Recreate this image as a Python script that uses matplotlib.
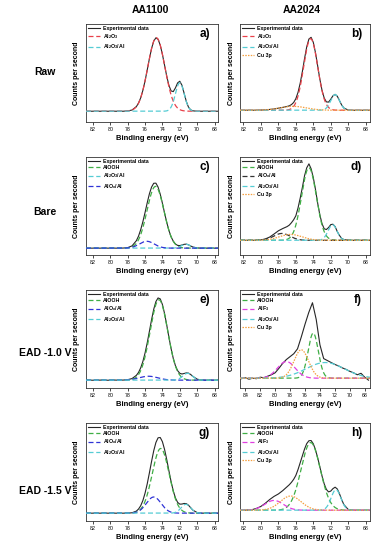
import numpy as np
import matplotlib.pyplot as plt

plt.rcParams['font.family'] = ['Liberation Sans', 'DejaVu Sans']
plt.rcParams['mathtext.fontset'] = 'custom'
plt.rcParams['mathtext.rm'] = 'Liberation Sans:bold'
plt.rcParams['mathtext.it'] = 'Liberation Sans:bold'
plt.rcParams['mathtext.bf'] = 'Liberation Sans:bold'

# measured binding energies (eV), finer step across the Al 2p peaks
energy = [83.0, 82.5, 82.0, 81.5, 81.0, 80.5, 80.0, 79.5, 79.0, 78.5, 78.0, 77.5, 77.0,
          76.75, 76.5, 76.25, 76.0, 75.75, 75.5, 75.25, 75.0, 74.75, 74.5, 74.25, 74.0,
          73.75, 73.5, 73.25, 73.0, 72.75, 72.5, 72.25, 72.0, 71.75, 71.5, 71.25, 71.0, 70.75,
          70.5, 70.0, 69.5, 69.0, 68.5, 68.0, 67.5]
energy_f = [85.0, 84.5, 84.0, 83.5, 83.0, 82.5, 82.0, 81.5, 81.0, 80.5, 80.0, 79.5,
            79.0, 78.5, 78.0, 77.5, 77.0, 76.5, 76.0, 75.5, 75.0, 74.5, 74.0, 73.5,
            73.0, 72.5, 72.0, 71.5, 71.0, 70.5, 70.0, 69.5, 69.0, 68.5, 68.0, 67.5]
ticks = [82, 80, 78, 76, 74, 72, 70, 68]
ticks_f = [84, 82, 80, 78, 76, 74, 72, 70, 68]

# a) AA1100 raw
a_exp = [0.11, 0.11, 0.11, 0.11, 0.11, 0.11, 0.11, 0.11, 0.11, 0.110, 0.113, 0.122, 0.157,
         0.193, 0.247, 0.323, 0.419, 0.531, 0.646, 0.750, 0.826, 0.859, 0.844, 0.784, 0.690,
         0.578, 0.466, 0.373, 0.317, 0.310, 0.348, 0.399, 0.416, 0.375, 0.293, 0.210, 0.152, 0.124,
         0.114, 0.110, 0.11, 0.11, 0.11, 0.11, 0.11]
a_base = 0.11
a_names = ['Al$_2$O$_3$', 'Al$_2$O$_3$/Al']
a_center = [74.7, 72.0]
a_height = [0.75, 0.29]
a_fwhm = [2.3, 1.2]

# b) AA2024 raw
b_exp = [0.12, 0.12, 0.12, 0.12, 0.12, 0.12, 0.122, 0.124, 0.128, 0.133, 0.141, 0.149, 0.159,
         0.165, 0.178, 0.199, 0.238, 0.302, 0.396, 0.516, 0.648, 0.768, 0.847, 0.864, 0.813,
         0.708, 0.574, 0.438, 0.324, 0.245, 0.205, 0.203, 0.232, 0.267, 0.282, 0.263, 0.219, 0.174,
         0.143, 0.122, 0.12, 0.12, 0.12, 0.12, 0.12]
b_base = 0.12
b_names = ['Al$_2$O$_3$', 'Al$_2$O$_3$/Al', 'Cu 3p']
b_center = [74.3, 71.5, 76.3]
b_height = [0.73, 0.16, 0.04]
b_fwhm = [1.9, 1.2, 3.5]

# c) AA1100 bare
c_exp = [0.07, 0.07, 0.07, 0.07, 0.07, 0.07, 0.07, 0.07, 0.07, 0.071, 0.075, 0.093, 0.146,
         0.193, 0.259, 0.340, 0.434, 0.533, 0.624, 0.693, 0.732, 0.733, 0.693, 0.620, 0.528,
         0.427, 0.332, 0.250, 0.185, 0.141, 0.112, 0.098, 0.096, 0.102, 0.109, 0.111, 0.104, 0.092,
         0.082, 0.072, 0.07, 0.07, 0.07, 0.07, 0.07]
c_base = 0.07
c_names = ['AlOOH', 'Al$_2$O$_3$/Al', 'AlO$_x$/Al']
c_center = [74.8, 71.3, 75.8]
c_height = [0.63, 0.04, 0.07]
c_fwhm = [2.3, 1.2, 2.0]

# d) AA2024 bare
d_exp = [0.15, 0.15, 0.15, 0.15, 0.150, 0.151, 0.154, 0.164, 0.183, 0.214, 0.247, 0.270, 0.290,
         0.305, 0.330, 0.360, 0.400, 0.480, 0.580, 0.690, 0.810, 0.890, 0.930, 0.880, 0.790,
         0.670, 0.530, 0.410, 0.320, 0.267, 0.260, 0.280, 0.310, 0.314, 0.290, 0.239, 0.200, 0.169,
         0.158, 0.150, 0.15, 0.15, 0.15, 0.15, 0.15]
d_base = 0.15
d_names = ['AlOOH', 'AlO$_x$/Al', 'Al$_2$O$_3$/Al', 'Cu 3p']
d_center = [74.5, 77.6, 71.8, 76.6]
d_height = [0.74, 0.07, 0.16, 0.06]
d_fwhm = [2.0, 2.2, 1.2, 3.0]

# e) AA1100 EAD -1.0 V
e_exp = [0.08, 0.082, 0.079, 0.08, 0.081, 0.079, 0.08, 0.081, 0.08, 0.081, 0.085, 0.096, 0.129,
         0.159, 0.206, 0.271, 0.357, 0.461, 0.578, 0.697, 0.804, 0.882, 0.919, 0.909, 0.852,
         0.758, 0.641, 0.517, 0.401, 0.302, 0.227, 0.177, 0.150, 0.143, 0.148, 0.154, 0.152, 0.138,
         0.119, 0.090, 0.081, 0.08, 0.08, 0.08, 0.08]
e_base = 0.08
e_names = ['AlOOH', 'AlO$_x$/Al', 'Al$_2$O$_3$/Al']
e_center = [74.4, 75.6, 71.1]
e_height = [0.82, 0.04, 0.07]
e_fwhm = [2.4, 2.5, 1.3]

# f) AA2024 EAD -1.0 V
f_exp = [0.10, 0.095, 0.105, 0.09, 0.10, 0.095, 0.11, 0.105, 0.12, 0.135, 0.155, 0.20,
         0.25, 0.29, 0.32, 0.35, 0.40, 0.52, 0.65, 0.77, 0.87, 0.70, 0.44, 0.30,
         0.28, 0.26, 0.24, 0.225, 0.205, 0.19, 0.17, 0.155, 0.135, 0.15, 0.11, 0.08]
f_base = 0.10
f_names = ['AlOOH', 'AlF$_3$', 'Al$_2$O$_3$/Al', 'Cu 3p']
f_center = [74.9, 78.5, 73.3, 76.5]
f_height = [0.46, 0.17, 0.16, 0.29]
f_fwhm = [1.6, 2.8, 6.0, 2.3]

# g) AA1100 EAD -1.5 V
g_exp = [0.08, 0.08, 0.08, 0.08, 0.08, 0.08, 0.08, 0.08, 0.08, 0.08, 0.080, 0.084, 0.101,
         0.122, 0.156, 0.209, 0.284, 0.379, 0.491, 0.608, 0.717, 0.801, 0.849, 0.852, 0.809,
         0.729, 0.626, 0.511, 0.401, 0.307, 0.235, 0.190, 0.172, 0.173, 0.179, 0.177, 0.161, 0.136,
         0.111, 0.086, 0.080, 0.08, 0.08, 0.08, 0.08]
g_base = 0.08
g_names = ['AlOOH', 'AlO$_x$/Al', 'Al$_2$O$_3$/Al']
g_center = [74.2, 75.0, 71.3]
g_height = [0.66, 0.165, 0.09]
g_fwhm = [2.3, 2.0, 1.3]

# h) AA2024 EAD -1.5 V
h_exp = [0.11, 0.11, 0.110, 0.112, 0.116, 0.129, 0.149, 0.181, 0.219, 0.251, 0.276, 0.310, 0.350,
         0.370, 0.395, 0.425, 0.465, 0.525, 0.595, 0.665, 0.735, 0.790, 0.819, 0.821, 0.788,
         0.727, 0.646, 0.553, 0.460, 0.379, 0.322, 0.297, 0.305, 0.330, 0.345, 0.327, 0.279, 0.219,
         0.168, 0.118, 0.111, 0.11, 0.11, 0.11, 0.11]
h_base = 0.11
h_names = ['AlOOH', 'AlF$_3$', 'Al$_2$O$_3$/Al', 'Cu 3p']
h_center = [74.3, 78.5, 71.4, 76.6]
h_height = [0.69, 0.10, 0.21, 0.145]
h_fwhm = [2.6, 2.5, 1.3, 2.8]

row_labels = ['Raw', 'Bare', 'EAD -1.0 V', 'EAD -1.5 V']
col_titles = ['AA1100', 'AA2024']

colours = {'Al$_2$O$_3$': '#e8414a', 'Al$_2$O$_3$/Al': '#55ccd4', 'AlOOH': '#3fae45',
           'AlO$_x$/Al': '#2f33d6', 'AlF$_3$': '#e03fe0', 'Cu 3p': '#f5a040'}

panels = [
    ('a)', energy, a_exp, a_base, a_names, a_center, a_height, a_fwhm),
    ('b)', energy, b_exp, b_base, b_names, b_center, b_height, b_fwhm),
    ('c)', energy, c_exp, c_base, c_names, c_center, c_height, c_fwhm),
    ('d)', energy, d_exp, d_base, d_names, d_center, d_height, d_fwhm),
    ('e)', energy, e_exp, e_base, e_names, e_center, e_height, e_fwhm),
    ('f)', energy_f, f_exp, f_base, f_names, f_center, f_height, f_fwhm),
    ('g)', energy, g_exp, g_base, g_names, g_center, g_height, g_fwhm),
    ('h)', energy, h_exp, h_base, h_names, h_center, h_height, h_fwhm),
]

W, H = 378, 550
fig = plt.figure(figsize=(W / 100, H / 100), dpi=100)

col_left = [86, 240]
col_width = [132, 130]
row_top = [24, 157, 290, 423]
ax_h = 98

for i, (letter, x, y, base, names, cen, hgt, fw) in enumerate(panels):
    r, c = divmod(i, 2)
    ax = fig.add_axes([col_left[c] / W, 1 - (row_top[r] + ax_h) / H,
                       col_width[c] / W, ax_h / H])
    if letter == 'f)':
        xlim = (84.7, 67.3)
        xt = ticks_f
    elif c == 0:
        xlim = (82.8, 67.6)
        xt = ticks
    else:
        xlim = (82.4, 67.5)
        xt = ticks

    ax.plot(x, y, color='#262626', lw=0.8, label='Experimental data', zorder=2)
    xx = np.linspace(xlim[0], xlim[1], 400)
    for name, x0, h0, w0 in zip(names, cen, hgt, fw):
        comp = base + h0 * np.exp(-4 * np.log(2) * (xx - x0) ** 2 / w0 ** 2)
        col = colours[name]
        if letter == 'd)' and name == 'AlO$_x$/Al':
            col = '#333333'
        if name == 'Cu 3p':
            ax.plot(xx, comp, color=col, lw=0.9, ls=(0, (1.2, 1.0)), label=name, zorder=3)
        else:
            ax.plot(xx, comp, color=col, lw=0.9, ls=(0, (4, 2.2)), label=name, zorder=3)

    ax.set_xlim(*xlim)
    ax.set_ylim(0, 1)
    ax.set_xticks(xt)
    ax.set_yticks([])
    ax.tick_params(axis='x', labelsize=3.8, length=2, width=0.5, pad=1.5)
    for s in ax.spines.values():
        s.set_linewidth(0.6)
        s.set_color('#333333')
    ax.set_xlabel('Binding energy (eV)', fontsize=5.5, fontweight='bold', labelpad=2)
    ax.set_ylabel('Counts per second', fontsize=5, fontweight='bold',
                  labelpad=4.5 if c == 0 else 3.5)
    ax.legend(loc='upper left', frameon=False, prop={'size': 3.8, 'weight': 'bold'},
              handlelength=2.3, handletextpad=0.5, labelspacing=0.25,
              borderaxespad=0.15, borderpad=0.2)
    ax.text(0.94, 0.9, letter, transform=ax.transAxes, ha='right', va='center',
            fontsize=8.5, fontweight='bold')

for label, yp in zip(row_labels, [72, 212, 353, 491]):
    fig.text(45 / W, 1 - yp / H, label, ha='center', va='center',
             fontsize=7.5, fontweight='bold')
for title, xp in zip(col_titles, [150, 302]):
    fig.text(xp / W, 1 - 10 / H, title, ha='center', va='center',
             fontsize=7.5, fontweight='bold')

fig.savefig('out.png', dpi=100)
